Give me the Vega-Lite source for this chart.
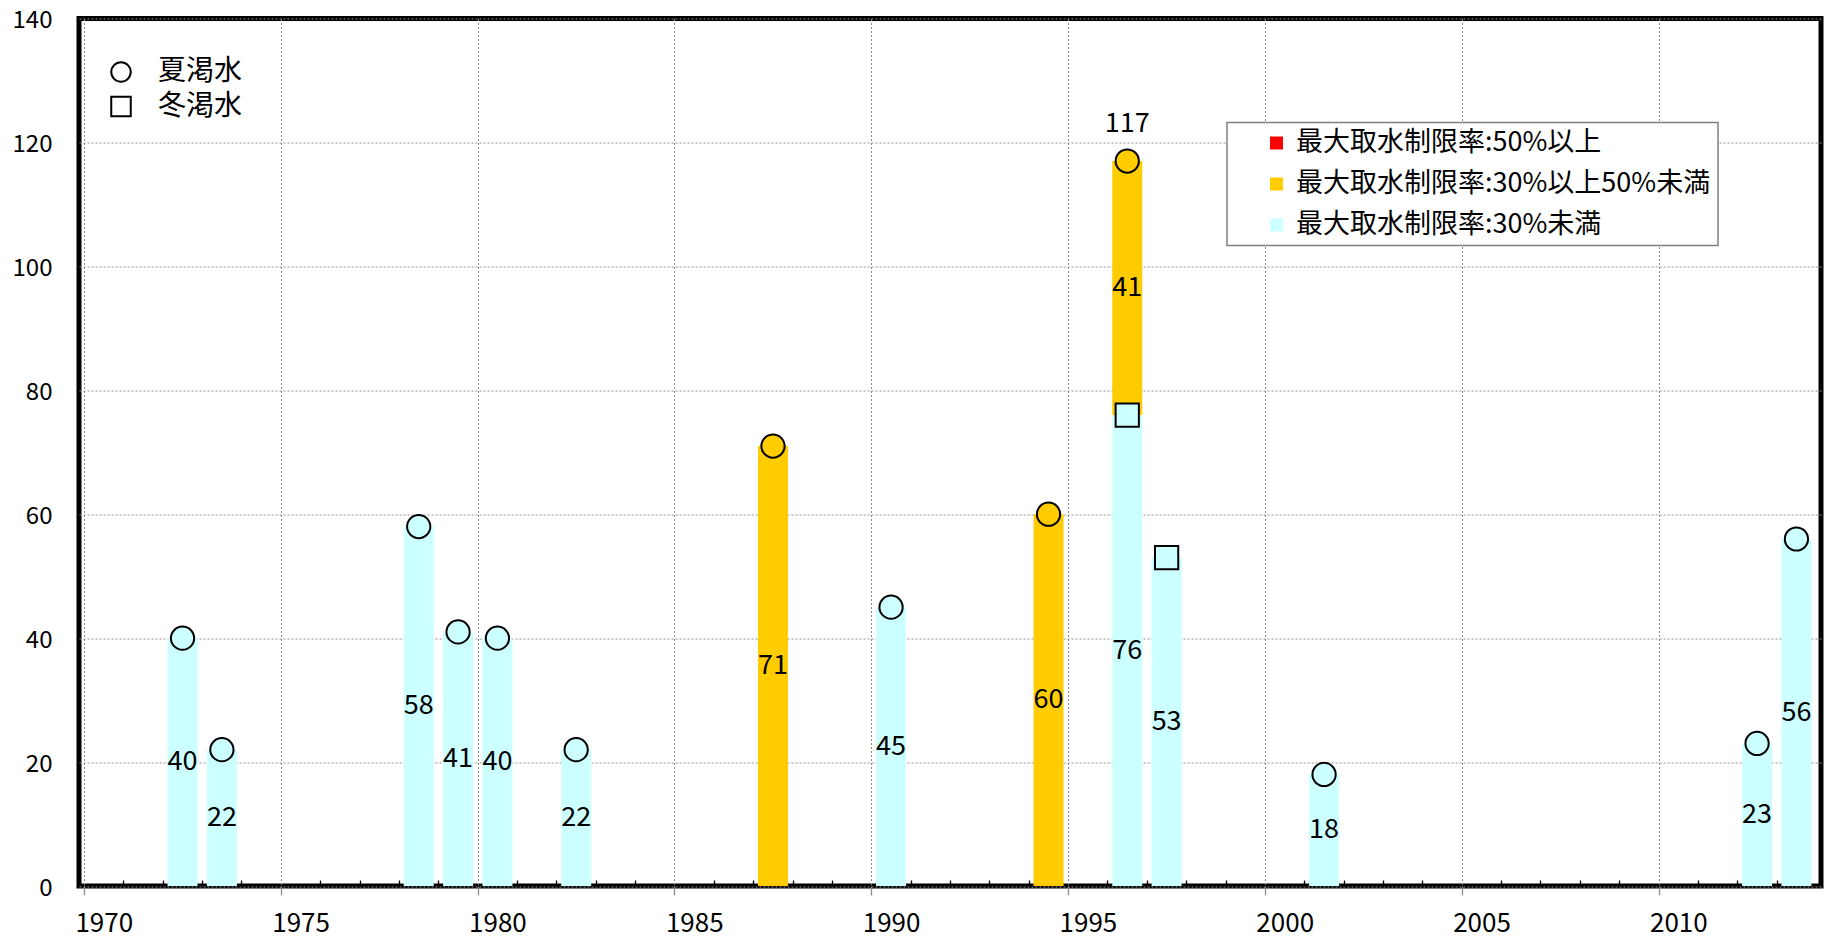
{
  "$schema": "https://vega.github.io/schema/vega-lite/v6.json",
  "width": 1742,
  "height": 867.5,
  "autosize": {"type": "none"},
  "padding": {"left": 79, "top": 18.5, "right": 8, "bottom": 52},
  "background": "white",
  "config": {
    "view": {"stroke": "black", "strokeWidth": 5},
    "font": "Noto Sans CJK JP",
    "axis": {"labelFont": "Noto Sans CJK JP", "labelColor": "black"},
    "legend": {"labelFont": "Noto Sans CJK JP", "labelColor": "black"},
    "text": {"font": "Noto Sans CJK JP"}
  },
  "data": {
    "values": [
      {"year": 1972, "days": 40, "category": "最大取水制限率:30%未満", "season": "夏渇水"},
      {"year": 1973, "days": 22, "category": "最大取水制限率:30%未満", "season": "夏渇水"},
      {"year": 1978, "days": 58, "category": "最大取水制限率:30%未満", "season": "夏渇水"},
      {"year": 1979, "days": 41, "category": "最大取水制限率:30%未満", "season": "夏渇水"},
      {"year": 1980, "days": 40, "category": "最大取水制限率:30%未満", "season": "夏渇水"},
      {"year": 1982, "days": 22, "category": "最大取水制限率:30%未満", "season": "夏渇水"},
      {"year": 1987, "days": 71, "category": "最大取水制限率:30%以上50%未満", "season": "夏渇水"},
      {"year": 1990, "days": 45, "category": "最大取水制限率:30%未満", "season": "夏渇水"},
      {"year": 1994, "days": 60, "category": "最大取水制限率:30%以上50%未満", "season": "夏渇水"},
      {"year": 1996, "days": 76, "category": "最大取水制限率:30%未満", "season": "冬渇水"},
      {"year": 1996, "days": 41, "category": "最大取水制限率:30%以上50%未満", "season": "夏渇水"},
      {"year": 1997, "days": 53, "category": "最大取水制限率:30%未満", "season": "冬渇水"},
      {"year": 2001, "days": 18, "category": "最大取水制限率:30%未満", "season": "夏渇水"},
      {"year": 2012, "days": 23, "category": "最大取水制限率:30%未満", "season": "夏渇水"},
      {"year": 2013, "days": 56, "category": "最大取水制限率:30%未満", "season": "夏渇水"}
    ]
  },
  "transform": [
    {"stack": "days", "groupby": ["year"], "sort": [{"field": "season", "order": "ascending"}], "as": ["y0", "y1"]},
    {"calculate": "(datum.y0 + datum.y1) / 2", "as": "mid"}
  ],
  "layer": [
    {
      "mark": {"type": "bar", "width": 30, "xOffset": 19.8, "orient": "vertical"},
      "encoding": {
        "x": {
          "field": "year", "type": "quantitative",
          "scale": {"domain": [1970, 2014], "nice": false, "zero": false},
          "axis": {
            "title": null,
            "values": [1970,1971,1972,1973,1974,1975,1976,1977,1978,1979,1980,1981,1982,1983,1984,1985,1986,1987,1988,1989,1990,1991,1992,1993,1994,1995,1996,1997,1998,1999,2000,2001,2002,2003,2004,2005,2006,2007,2008,2009,2010,2011,2012,2013],
            "domain": false,
            "grid": true,
            "gridColor": {"condition": {"test": "datum.value % 5 === 0", "value": "#8c8c8c"}, "value": "transparent"},
            "gridDash": [2, 2],
            "gridWidth": 1,
            "ticks": true,
            "tickSize": {"condition": {"test": "datum.value % 5 === 0", "value": 9}, "value": -6},
            "tickColor": {"condition": {"test": "datum.value % 5 === 0", "value": "#8c8c8c"}, "value": "black"},
            "tickWidth": 1.3,
            "labelExpr": "datum.value % 5 === 0 ? datum.label : ''",
            "format": "d",
            "labelOffset": 19.8,
            "labelPadding": 15,
            "labelFontSize": 26,
            "labelFlush": false,
            "labelOverlap": false,
            "labelBound": false
          }
        },
        "y": {
          "field": "y1", "type": "quantitative",
          "scale": {"domain": [0, 140], "nice": false},
          "axis": {
            "title": null,
            "values": [0, 20, 40, 60, 80, 100, 120, 140],
            "domain": false,
            "ticks": false,
            "tickSize": 0,
            "grid": true,
            "gridColor": "#8c8c8c",
            "gridDash": [2, 2],
            "gridWidth": 1,
            "labelPadding": 27,
            "labelOffset": 2,
            "labelFontSize": 24,
            "labelFlush": false
          }
        },
        "y2": {"field": "y0"},
        "color": {
          "field": "category", "type": "nominal",
          "scale": {
            "domain": ["最大取水制限率:50%以上", "最大取水制限率:30%以上50%未満", "最大取水制限率:30%未満"],
            "range": ["#FF0000", "#FFCC00", "#CCFFFF"]
          },
          "legend": {
            "title": null,
            "orient": "none",
            "legendX": 1148,
            "legendY": 104,
            "direction": "vertical",
            "symbolType": "square",
            "symbolSize": 169,
            "symbolStrokeWidth": 0,
            "labelFontSize": 27,
            "labelOffset": 6,
            "symbolOffset": 29,
            "padding": 7,
            "rowPadding": 13,
            "labelLimit": 1000,
            "strokeColor": "#808080",
            "fillColor": "white",
            "encode": {
              "symbols": {"update": {"strokeWidth": {"value": 0}, "shape": {"value": "square"}}},
              "legend": {"update": {"strokeWidth": {"value": 1.5}}}
            }
          }
        }
      }
    },
    {
      "mark": {"type": "text", "fontSize": 27, "xOffset": 19.8, "baseline": "middle", "align": "center", "color": "black"},
      "encoding": {
        "x": {"field": "year", "type": "quantitative", "scale": {"domain": [1970, 2014], "nice": false, "zero": false}},
        "y": {"field": "mid", "type": "quantitative", "scale": {"domain": [0, 140], "nice": false}},
        "text": {"field": "days", "type": "quantitative"}
      }
    },
    {
      "mark": {"type": "point", "filled": true, "stroke": "black", "strokeWidth": 2, "size": 540, "opacity": 1, "xOffset": 19.8},
      "encoding": {
        "x": {"field": "year", "type": "quantitative", "scale": {"domain": [1970, 2014], "nice": false, "zero": false}},
        "y": {"field": "y1", "type": "quantitative", "scale": {"domain": [0, 140], "nice": false}},
        "color": {"field": "category", "type": "nominal"},
        "shape": {
          "field": "season", "type": "nominal",
          "scale": {"domain": ["夏渇水", "冬渇水"], "range": ["circle", "square"]},
          "legend": {
            "title": null,
            "orient": "none",
            "legendX": 28,
            "legendY": 39.5,
            "direction": "vertical",
            "symbolSize": 380,
            "symbolFillColor": "white",
            "symbolStrokeColor": "black",
            "symbolStrokeWidth": 2,
            "symbolOpacity": 1,
            "labelFontSize": 28,
            "labelOffset": 23,
            "padding": 0,
            "rowPadding": 6.5,
            "symbolOffset": 0,
            "encode": {"symbols": {"update": {"fill": {"value": "white"}, "stroke": {"value": "black"}, "strokeWidth": {"value": 2}}}}
          }
        }
      }
    },
    {
      "transform": [
        {"aggregate": [{"op": "sum", "field": "days", "as": "total"}, {"op": "count", "as": "n"}], "groupby": ["year"]},
        {"filter": "datum.n > 1"}
      ],
      "mark": {"type": "text", "fontSize": 27, "xOffset": 19.8, "dy": -37, "baseline": "middle", "align": "center", "color": "black"},
      "encoding": {
        "x": {"field": "year", "type": "quantitative", "scale": {"domain": [1970, 2014], "nice": false, "zero": false}},
        "y": {"field": "total", "type": "quantitative", "scale": {"domain": [0, 140], "nice": false}},
        "text": {"field": "total", "type": "quantitative"}
      }
    }
  ]
}
